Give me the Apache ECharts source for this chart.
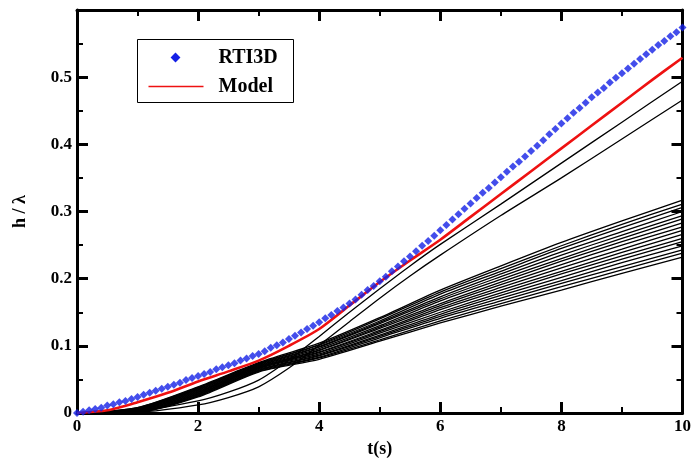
<!DOCTYPE html>
<html>
<head>
<meta charset="utf-8">
<script src="https://cdn.jsdelivr.net/npm/echarts@6/dist/echarts.min.js"></script>
<style>
  html, body { margin: 0; padding: 0; background: #fff; }
  #chart { width: 694px; height: 463px; }
</style>
</head>
<body>
<div id="chart"></div>
<script>
// Axis ranges and ticks
const xTicks = [0, 2, 4, 6, 8, 10];
const yTicks = [0, 0.1, 0.2, 0.3, 0.4, 0.5];

// RTI3D simulation: h/lambda sampled every 0.1 s from t = 0 to t = 10
const rtiStep = 0.1;
const rtiH = [
  0.000, 0.002, 0.004, 0.006, 0.008, 0.011, 0.013, 0.016, 0.018, 0.021,
  0.024, 0.027, 0.030, 0.033, 0.036, 0.039, 0.042, 0.045, 0.049, 0.052,
  0.055, 0.058, 0.061, 0.065, 0.068, 0.071, 0.074, 0.078, 0.081, 0.085,
  0.088, 0.092, 0.097, 0.101, 0.105, 0.110, 0.115, 0.120, 0.125, 0.130,
  0.135, 0.141, 0.146, 0.152, 0.157, 0.163, 0.169, 0.176, 0.183, 0.189,
  0.196, 0.203, 0.211, 0.218, 0.226, 0.233, 0.241, 0.249, 0.256, 0.264,
  0.272, 0.280, 0.288, 0.296, 0.304, 0.312, 0.320, 0.328, 0.335, 0.343,
  0.351, 0.359, 0.367, 0.374, 0.382, 0.390, 0.398, 0.406, 0.415, 0.423,
  0.431, 0.439, 0.447, 0.454, 0.462, 0.470, 0.477, 0.484, 0.492, 0.499,
  0.506, 0.513, 0.520, 0.527, 0.534, 0.541, 0.548, 0.554, 0.561, 0.567,
  0.574
];

// Model prediction
const modelT = [0, 0.5, 1, 1.5, 2, 2.5, 3, 3.5, 4, 4.5, 5, 5.5, 6, 6.5, 7, 7.5, 8, 8.5, 9, 9.5, 10];
const modelH = [0, 0.004, 0.016, 0.030, 0.047, 0.062, 0.078, 0.100, 0.125, 0.160, 0.195,
                0.227, 0.258, 0.292, 0.326, 0.360, 0.394, 0.428, 0.462, 0.496, 0.529];

// Two fast-growing single-mode runs
const fastT = [0, 1, 2, 2.5, 3, 3.5, 4, 4.5, 5, 5.5, 6, 7, 8, 9, 10];
const fastA = [0, 0.003, 0.018, 0.031, 0.049, 0.079, 0.114, 0.150, 0.185, 0.219, 0.251, 0.311, 0.372, 0.433, 0.494];
const fastB = [0, 0.001, 0.012, 0.023, 0.039, 0.067, 0.101, 0.136, 0.171, 0.204, 0.235, 0.294, 0.350, 0.408, 0.466];

// Family of slower runs
const familyT = [0, 1, 2, 3, 4, 5, 6, 7, 8, 9, 10];
const familyH = [
  [0, 0.008, 0.039, 0.075, 0.104, 0.142, 0.183, 0.219, 0.254, 0.286, 0.317],
  [0, 0.008, 0.038, 0.074, 0.102, 0.140, 0.180, 0.215, 0.249, 0.281, 0.311],
  [0, 0.007, 0.037, 0.073, 0.101, 0.137, 0.177, 0.211, 0.245, 0.276, 0.306],
  [0, 0.007, 0.036, 0.072, 0.099, 0.135, 0.173, 0.207, 0.240, 0.270, 0.300],
  [0, 0.006, 0.035, 0.071, 0.098, 0.133, 0.170, 0.203, 0.235, 0.265, 0.294],
  [0, 0.006, 0.034, 0.070, 0.096, 0.130, 0.167, 0.199, 0.230, 0.260, 0.289],
  [0, 0.005, 0.033, 0.069, 0.094, 0.128, 0.163, 0.195, 0.226, 0.255, 0.283],
  [0, 0.005, 0.032, 0.068, 0.093, 0.126, 0.160, 0.191, 0.221, 0.250, 0.277],
  [0, 0.004, 0.031, 0.068, 0.091, 0.123, 0.157, 0.187, 0.216, 0.244, 0.272],
  [0, 0.004, 0.030, 0.067, 0.090, 0.121, 0.154, 0.183, 0.211, 0.239, 0.266],
  [0, 0.003, 0.029, 0.066, 0.088, 0.119, 0.150, 0.179, 0.207, 0.234, 0.260],
  [0, 0.003, 0.028, 0.065, 0.086, 0.116, 0.147, 0.175, 0.202, 0.229, 0.255],
  [0, 0.002, 0.027, 0.064, 0.085, 0.114, 0.144, 0.171, 0.197, 0.224, 0.249],
  [0, 0.002, 0.026, 0.063, 0.083, 0.112, 0.141, 0.167, 0.193, 0.218, 0.243],
  [0, 0.001, 0.025, 0.062, 0.082, 0.109, 0.137, 0.163, 0.188, 0.213, 0.238],
  [0, 0.001, 0.024, 0.061, 0.080, 0.107, 0.134, 0.159, 0.183, 0.208, 0.232]
];

const FONT = '"Liberation Serif", "Times New Roman", serif';
const BLUE = '#1420e6';
const RED = '#ee1111';

function pairs(ts, hs) {
  return hs.map((h, i) => [ts[i], h]);
}

const chart = echarts.init(document.getElementById('chart'), null, { renderer: 'canvas' });

const baseAxis = {
  type: 'value',
  axisLine: { show: true, onZero: false, lineStyle: { color: '#000', width: 3 } },
  axisTick: { show: true, inside: true, length: 11, lineStyle: { color: '#000', width: 3 } },
  minorTick: { show: true, splitNumber: 2, length: 6, lineStyle: { color: '#000', width: 2 } },
  splitLine: { show: false },
  minorSplitLine: { show: false }
};

const tickLabel = { fontFamily: FONT, fontWeight: 'bold', fontSize: 17, color: '#000' };

const series = [];
familyH.forEach((hs, i) => {
  series.push({
    name: 'run' + (i + 1),
    type: 'line',
    data: pairs(familyT, hs),
    symbol: 'none',
    smooth: 0.25,
    lineStyle: { color: '#000', width: 1.3 },
    silent: true,
    z: 2
  });
});
[fastA, fastB].forEach((hs, i) => {
  series.push({
    name: 'fast' + (i + 1),
    type: 'line',
    data: pairs(fastT, hs),
    symbol: 'none',
    smooth: 0.25,
    lineStyle: { color: '#000', width: 1.3 },
    silent: true,
    z: 2
  });
});
series.push({
  name: 'Model',
  type: 'line',
  data: pairs(modelT, modelH),
  symbol: 'none',
  smooth: 0.25,
  lineStyle: { color: RED, width: 2.6 },
  z: 3
});
series.push({
  name: 'RTI3D',
  type: 'scatter',
  data: rtiH.map((h, i) => [i * rtiStep, h]),
  symbol: 'diamond',
  symbolSize: 8,
  itemStyle: { color: BLUE },
  z: 4
});

// Legend box drawn with graphic elements
const legendGraphic = {
  type: 'group',
  left: 137,
  top: 39,
  z: 100,
  children: [
    { type: 'rect', shape: { x: 0, y: 0, width: 156, height: 63 },
      style: { fill: '#fff', stroke: '#000', lineWidth: 1 } },
    { type: 'rect', shape: { x: -3.5, y: -3.5, width: 7, height: 7 },
      x: 38, y: 18, rotation: Math.PI / 4, style: { fill: BLUE } },
    { type: 'line', shape: { x1: 11, y1: 47, x2: 66, y2: 47 },
      style: { stroke: RED, lineWidth: 1.5 } },
    { type: 'text', x: 81, y: 18,
      style: { text: 'RTI3D', font: 'bold 20px ' + FONT, fill: '#000', verticalAlign: 'middle' } },
    { type: 'text', x: 81, y: 47,
      style: { text: 'Model', font: 'bold 20px ' + FONT, fill: '#000', verticalAlign: 'middle' } }
  ]
};

chart.setOption({
  animation: false,
  backgroundColor: '#fff',
  grid: { left: 77, right: 7, top: 10, bottom: 41, containLabel: false },
  graphic: [legendGraphic],
  xAxis: [
    Object.assign({}, baseAxis, {
      position: 'bottom', min: 0, max: 10, interval: 2,
      axisLabel: Object.assign({ margin: 5 }, tickLabel),
      name: 't(s)', nameLocation: 'middle', nameGap: 27,
      nameTextStyle: { fontFamily: FONT, fontWeight: 'bold', fontSize: 18, color: '#000' }
    }),
    Object.assign({}, baseAxis, {
      position: 'top', min: 0, max: 10, interval: 2,
      axisLabel: { show: false }
    })
  ],
  yAxis: [
    Object.assign({}, baseAxis, {
      position: 'left', min: 0, max: 0.6, interval: 0.1,
      axisLabel: Object.assign({ margin: 5, showMaxLabel: false,
        formatter: v => (yTicks.indexOf(Math.round(v * 10) / 10) >= 0 ? String(Math.round(v * 10) / 10) : '') }, tickLabel),
      name: 'h / λ', nameLocation: 'middle', nameGap: 48,
      nameTextStyle: { fontFamily: FONT, fontWeight: 'bold', fontSize: 18, color: '#000' }
    }),
    Object.assign({}, baseAxis, {
      position: 'right', min: 0, max: 0.6, interval: 0.1,
      axisLabel: { show: false }
    })
  ],
  series: series
});
</script>
</body>
</html>
